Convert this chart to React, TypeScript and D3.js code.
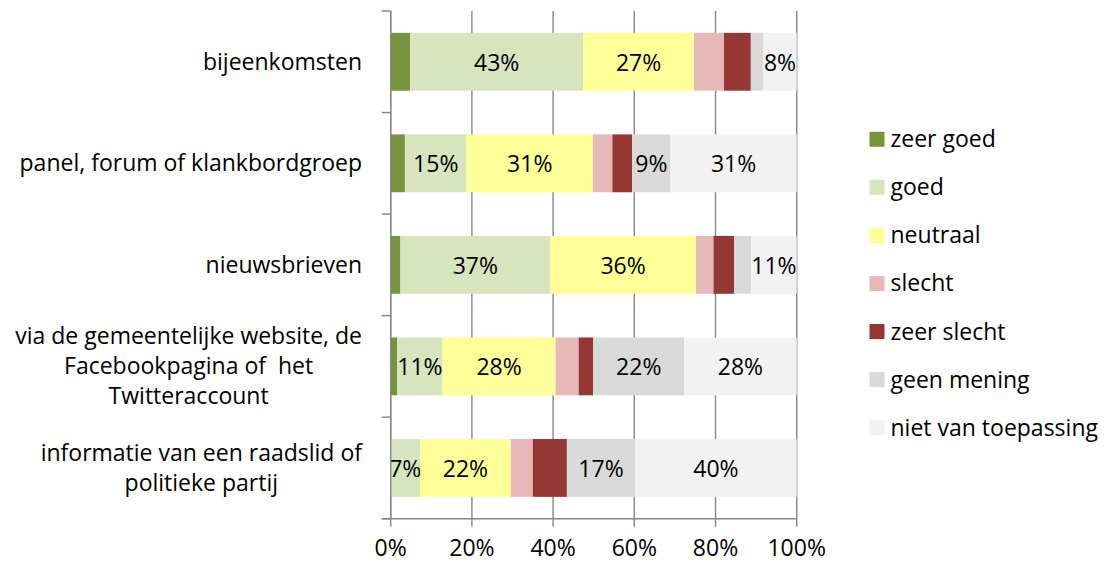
import React, { useRef, useEffect } from 'react';
import * as d3 from 'd3';

// category labels, split into lines as in the original
const categories: string[][] = [
  ['bijeenkomsten'],
  ['panel, forum of klankbordgroep'],
  ['nieuwsbrieven'],
  ['via de gemeentelijke website, de', 'Facebookpagina of  het', 'Twitteraccount'],
  ['informatie van een raadslid of', 'politieke partij'],
];

const seriesNames = ['zeer goed', 'goed', 'neutraal', 'slecht', 'zeer slecht', 'geen mening', 'niet van toepassing'];

const zeerGoed = [4.8, 3.5, 2.4, 1.6, 0];
const goed = [42.6, 15.2, 36.9, 11.2, 7.2];
const neutraal = [27.3, 31.1, 35.9, 27.8, 22.4];
const slecht = [7.4, 4.8, 4.3, 5.7, 5.4];
const zeerSlecht = [6.6, 4.9, 5.1, 3.6, 8.4];
const geenMening = [3.1, 9.4, 4.2, 22.4, 16.8];
const nietVanToepassing = [8.2, 31.1, 11.2, 27.7, 39.8];

const tickValues = [0, 20, 40, 60, 80, 100];

const colors = ['#77933C', '#D7E4BD', '#FFFF99', '#E6B9B8', '#953735', '#D9D9D9', '#F2F2F2'];
// series that carry a data label in the original
const labelled = ['goed', 'neutraal', 'geen mening', 'niet van toepassing'];

const FONT = '"Open Sans", sans-serif';
const FS = '23px';
const AXIS = '#868686';

export default function App() {
  const ref = useRef<SVGSVGElement>(null);

  useEffect(() => {
    const svg = d3.select(ref.current);
    svg.selectAll('*').remove();

    const values = [zeerGoed, goed, neutraal, slecht, zeerSlecht, geenMening, nietVanToepassing];
    const rows = categories.map((c, i) => {
      const r: any = { key: i };
      seriesNames.forEach((s, j) => (r[s] = values[j][i]));
      return r;
    });
    const stacked = d3.stack().keys(seriesNames)(rows);

    const top = 11, bottom = 518.7, left = 390.7, right = 796.7;

    const x = d3.scaleLinear().domain([0, 100]).range([left, right]);
    const y = d3.scaleBand<number>()
      .domain(categories.map((c, i) => i))
      .range([top, bottom])
      .paddingInner(0.43)
      .paddingOuter(0.215);

    // vertical gridlines + tick marks below axis
    svg.append('g')
      .selectAll('line')
      .data(tickValues)
      .enter()
      .append('line')
      .attr('x1', d => x(d)).attr('x2', d => x(d))
      .attr('y1', top).attr('y2', bottom + 8)
      .attr('stroke', AXIS)
      .attr('stroke-width', 1.4);

    // bars
    const g = svg.append('g');
    stacked.forEach((layer, j) => {
      g.selectAll('rect.s' + j)
        .data(layer)
        .enter()
        .append('rect')
        .attr('x', d => x(d[0]))
        .attr('width', d => x(d[1]) - x(d[0]))
        .attr('y', (d, i) => y(i)!)
        .attr('height', y.bandwidth())
        .attr('fill', colors[j]);
    });

    // data labels
    stacked.forEach((layer, j) => {
      if (!labelled.includes(seriesNames[j])) return;
      layer.forEach((d, i) => {
        const v = d[1] - d[0];
        if (v < 5) return;
        svg.append('text')
          .attr('x', (x(d[0]) + x(d[1])) / 2)
          .attr('y', y(i)! + y.bandwidth() / 2 + 9)
          .attr('text-anchor', 'middle')
          .style('font-family', FONT)
          .style('font-size', FS)
          .attr('fill', '#000')
          .text(Math.round(v) + '%');
      });
    });

    // left axis with ticks at category boundaries
    svg.append('line')
      .attr('x1', left).attr('x2', left)
      .attr('y1', top).attr('y2', bottom)
      .attr('stroke', AXIS).attr('stroke-width', 1.4);
    const bounds = d3.range(categories.length + 1).map(i => top + i * y.step());
    svg.append('g')
      .selectAll('line')
      .data(bounds)
      .enter()
      .append('line')
      .attr('x1', left - 9).attr('x2', left)
      .attr('y1', d => d).attr('y2', d => d)
      .attr('stroke', AXIS).attr('stroke-width', 1.4);

    // bottom axis
    svg.append('line')
      .attr('x1', left - 9).attr('x2', right)
      .attr('y1', bottom).attr('y2', bottom)
      .attr('stroke', AXIS).attr('stroke-width', 1.4);
    svg.append('g')
      .selectAll('text')
      .data(tickValues)
      .enter()
      .append('text')
      .attr('x', d => x(d))
      .attr('y', 556)
      .attr('text-anchor', 'middle')
      .style('font-family', FONT)
      .style('font-size', FS)
      .text(d => d + '%');

    // category labels: single lines right aligned, multi-line centred on widest line
    const labelRight = 362;
    const lineH = 30;
    categories.forEach((lines, i) => {
      const cy = y(i)! + y.bandwidth() / 2;
      const t = svg.append('text')
        .style('font-family', FONT)
        .style('font-size', FS)
        .attr('fill', '#000');
      const spans = lines.map((l, k) =>
        t.append('tspan')
          .attr('y', cy + (k - (lines.length - 1) / 2) * lineH + 8)
          .attr('x', 0)
          .style('white-space', 'pre')
          .text(l));
      const widths = spans.map(s => (s.node() as SVGTSpanElement).getComputedTextLength());
      const maxW = d3.max(widths) || 0;
      if (lines.length === 1) {
        t.attr('text-anchor', 'end');
        spans[0].attr('x', labelRight);
      } else {
        t.attr('text-anchor', 'middle');
        spans.forEach(s => s.attr('x', labelRight - maxW / 2));
      }
    });

    // legend
    const lg = svg.append('g');
    seriesNames.forEach((s, j) => {
      const cy = 139.3 + j * 48.05;
      lg.append('rect')
        .attr('x', 869.5).attr('y', cy - 7.5)
        .attr('width', 15).attr('height', 15)
        .attr('fill', colors[j]);
      lg.append('text')
        .attr('x', 890.5)
        .attr('y', cy + 8)
        .style('font-family', FONT)
        .style('font-size', FS)
        .text(s);
    });
  }, []);

  return (
    <svg
      ref={ref}
      width={1108}
      height={564}
      style={{ position: 'absolute', left: 0, top: 0, background: '#fff' }}
    />
  );
}
